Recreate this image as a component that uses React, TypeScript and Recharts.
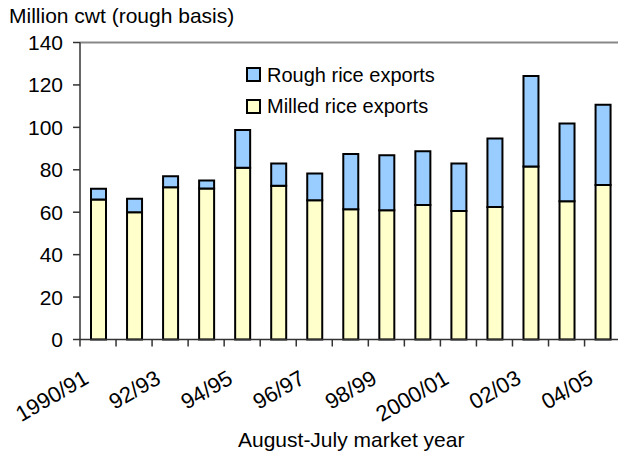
import React from 'react';
import { BarChart, Bar, XAxis, YAxis, ReferenceLine } from 'recharts';

// August-July market years
const years = [
  '1990/91', '91/92', '92/93', '93/94', '94/95', '95/96', '96/97', '97/98',
  '98/99', '99/00', '2000/01', '01/02', '02/03', '03/04', '04/05',
];
// only every other year gets a label
const tickLabels = [
  '1990/91', '', '92/93', '', '94/95', '', '96/97', '',
  '98/99', '', '2000/01', '', '02/03', '', '04/05',
];
// million cwt, rough basis
const milledExports = [66, 60, 71.8, 71.2, 81, 72.5, 65.6, 61.4, 60.9, 63.4, 60.6, 62.5, 81.6, 65.2, 72.8];
const roughExports = [5.1, 6.4, 5.1, 3.8, 17.8, 10.5, 12.6, 26, 25.9, 25.3, 22.4, 32.3, 42.6, 36.6, 37.9];
const yTicks = [0, 20, 40, 60, 80, 100, 120, 140];

const COLORS = {
  milled: '#FFFFCC',
  rough: '#99CCFF',
  axis: '#333333',
  frame: '#888888',
  text: '#000000',
};

const FONT = '"Liberation Sans", Arial, Helvetica, sans-serif';
const CHART_W = 640;
const PLOT_LEFT = 80;
const PLOT_RIGHT = 620.6;
const BAND = (PLOT_RIGHT - PLOT_LEFT) / years.length;

const data = years.map((year, i) => ({
  year,
  milled: milledExports[i],
  rough: roughExports[i],
}));

const YearTick = (props: any) => {
  const { x, y, payload } = props;
  const i = years.indexOf(payload.value);
  const label = tickLabels[i];
  const ax = x - 8;
  const ay = y + 43;
  return (
    <g>
      <line x1={x - BAND / 2} y1={y} x2={x - BAND / 2} y2={y + 7} stroke={COLORS.axis} strokeWidth={1.5} />
      {i === years.length - 1 && (
        <line x1={x + BAND / 2} y1={y} x2={x + BAND / 2} y2={y + 7} stroke={COLORS.axis} strokeWidth={1.5} />
      )}
      {label && (
        <text x={ax} y={ay} transform={`rotate(-30 ${ax} ${ay})`} textAnchor="end" fontSize={22} fill={COLORS.text}>
          {label}
        </text>
      )}
    </g>
  );
};

const LegendRow = ({ top, color, label }: { top: number; color: string; label: string }) => (
  <div style={{ position: 'absolute', left: 246, top, height: 20, whiteSpace: 'nowrap' }}>
    <div
      style={{
        position: 'absolute', left: 0, top: 2.5, width: 11, height: 11,
        background: color, border: '2px solid #000',
      }}
    />
    <div style={{ position: 'absolute', left: 21, top: 0, fontSize: 20, lineHeight: '20px' }}>{label}</div>
  </div>
);

export default function App() {
  return (
    <div
      style={{
        position: 'absolute', left: 0, top: 0, width: 618, height: 453,
        overflow: 'hidden', background: '#fff', fontFamily: FONT, color: COLORS.text,
      }}
    >
      <div style={{ position: 'absolute', left: 9, top: 5, fontSize: 21, lineHeight: '21px', whiteSpace: 'nowrap' }}>
        Million cwt (rough basis)
      </div>

      <BarChart
        width={CHART_W}
        height={453}
        data={data}
        margin={{ top: 42.5, right: CHART_W - PLOT_RIGHT, bottom: 13.5, left: 0 }}
        barCategoryGap={0}
      >
        <XAxis
          dataKey="year"
          interval={0}
          height={100}
          tickSize={0}
          tickMargin={0}
          tickLine={false}
          tick={<YearTick />}
          axisLine={{ stroke: COLORS.axis, strokeWidth: 1.5 }}
        />
        <YAxis
          width={PLOT_LEFT}
          domain={[0, 140]}
          ticks={yTicks}
          tickSize={7}
          tickMargin={10}
          tick={{ fontSize: 21, fill: COLORS.text }}
          tickLine={{ stroke: COLORS.axis, strokeWidth: 1.5 }}
          axisLine={{ stroke: COLORS.axis, strokeWidth: 1.5 }}
        />
        <ReferenceLine y={140} stroke={COLORS.frame} strokeWidth={2} />
        <Bar dataKey="milled" stackId="a" fill={COLORS.milled} stroke="#000" strokeWidth={2} barSize={15} isAnimationActive={false} />
        <Bar dataKey="rough" stackId="a" fill={COLORS.rough} stroke="#000" strokeWidth={2} barSize={15} isAnimationActive={false} />
      </BarChart>

      <LegendRow top={64.8} color={COLORS.rough} label="Rough rice exports" />
      <LegendRow top={96.4} color={COLORS.milled} label="Milled rice exports" />

      <div style={{ position: 'absolute', left: 238, top: 429, fontSize: 21, lineHeight: '21px', whiteSpace: 'nowrap' }}>
        August-July market year
      </div>
    </div>
  );
}
